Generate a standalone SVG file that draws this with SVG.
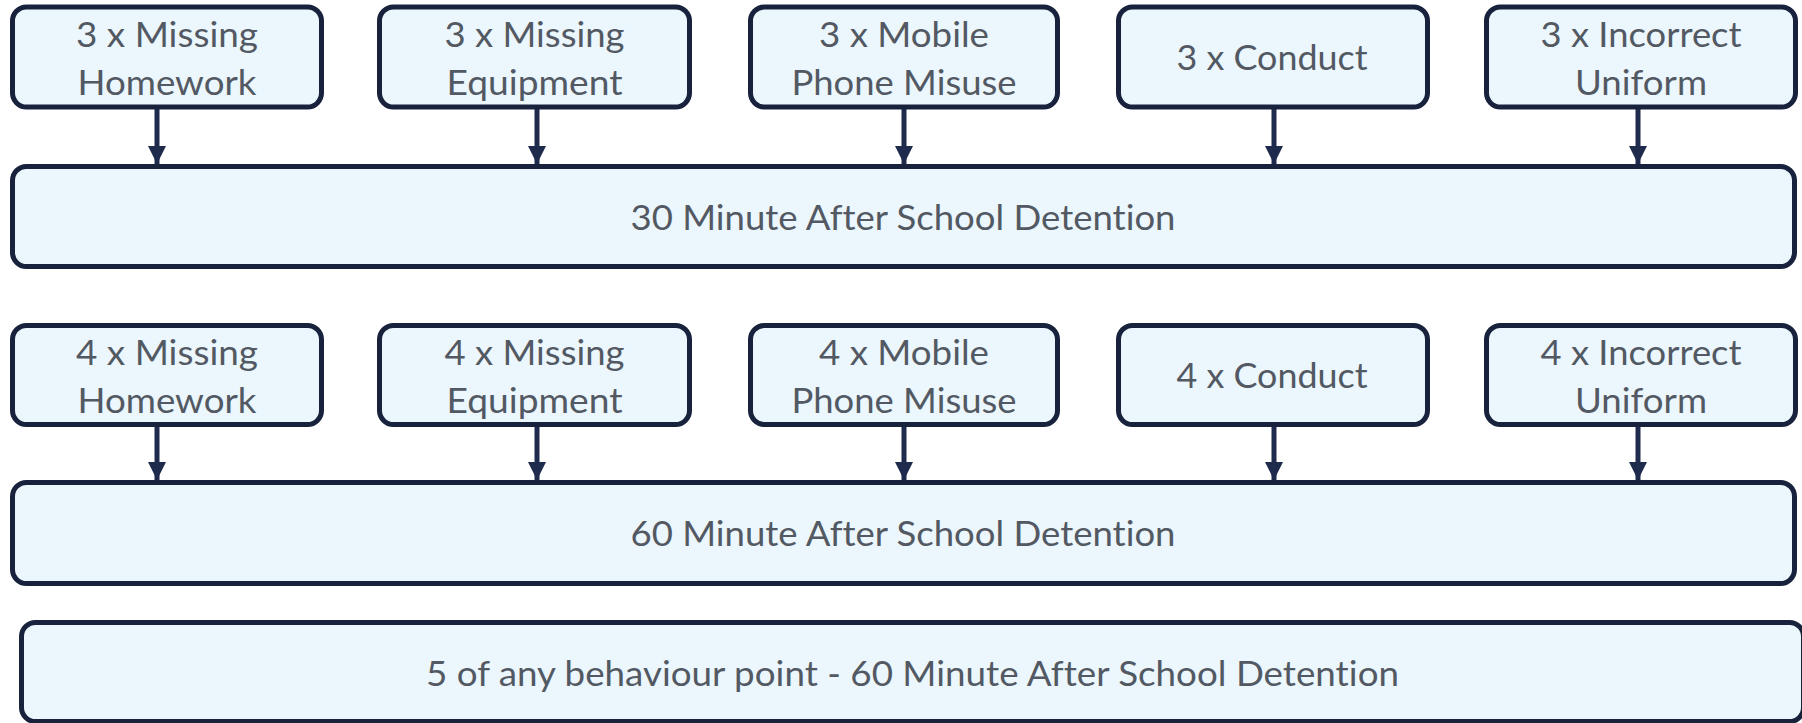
<svg xmlns="http://www.w3.org/2000/svg" width="1802" height="723" viewBox="0 0 1802 723">
<style>
.box{fill:#ebf6fd;stroke:#18223c;stroke-width:5}
.t{font-family:Lato,"Open Sans","Liberation Sans",sans-serif;font-size:34px;fill:#535963;text-anchor:middle;font-variant-ligatures:none;font-feature-settings:"liga" 0}
.c{stroke:#1f2b4d;stroke-width:5;fill:none}
</style>
<defs>
<marker id="ah" viewBox="0 0 10 10" refX="10" refY="5" markerWidth="3.6" markerHeight="3.6" markerUnits="strokeWidth" orient="auto">
<path d="M0,0 L10,5 L0,10 z" fill="#1f2b4d"/>
</marker>
</defs>
<rect width="1802" height="723" fill="#ffffff"/>
<g id="connectors">
<line class="c" x1="157" y1="109" x2="157" y2="164" marker-end="url(#ah)"/>
<line class="c" x1="537" y1="109" x2="537" y2="164" marker-end="url(#ah)"/>
<line class="c" x1="904" y1="109" x2="904" y2="164" marker-end="url(#ah)"/>
<line class="c" x1="1274" y1="109" x2="1274" y2="164" marker-end="url(#ah)"/>
<line class="c" x1="1638" y1="109" x2="1638" y2="164" marker-end="url(#ah)"/>
<line class="c" x1="157" y1="427" x2="157" y2="480" marker-end="url(#ah)"/>
<line class="c" x1="537" y1="427" x2="537" y2="480" marker-end="url(#ah)"/>
<line class="c" x1="904" y1="427" x2="904" y2="480" marker-end="url(#ah)"/>
<line class="c" x1="1274" y1="427" x2="1274" y2="480" marker-end="url(#ah)"/>
<line class="c" x1="1638" y1="427" x2="1638" y2="480" marker-end="url(#ah)"/>
</g>
<g id="n1"><rect class="box" x="12.5" y="7" width="309" height="100" rx="14"/>
<text class="t" x="167" y="47" textLength="182" lengthAdjust="spacingAndGlyphs">3 x Missing</text>
<text class="t" x="167" y="95" textLength="179" lengthAdjust="spacingAndGlyphs">Homework</text></g>
<g id="n2"><rect class="box" x="379.5" y="7" width="310" height="100" rx="14"/>
<text class="t" x="534.5" y="47" textLength="180" lengthAdjust="spacingAndGlyphs">3 x Missing</text>
<text class="t" x="534.5" y="95" textLength="176" lengthAdjust="spacingAndGlyphs">Equipment</text></g>
<g id="n3"><rect class="box" x="750.5" y="7" width="307" height="100" rx="14"/>
<text class="t" x="904" y="47" textLength="170" lengthAdjust="spacingAndGlyphs">3 x Mobile</text>
<text class="t" x="904" y="95" textLength="225" lengthAdjust="spacingAndGlyphs">Phone Misuse</text></g>
<g id="n4"><rect class="box" x="1118.5" y="7" width="309" height="100" rx="14"/>
<text class="t" x="1272" y="70" textLength="191" lengthAdjust="spacingAndGlyphs">3 x Conduct</text></g>
<g id="n5"><rect class="box" x="1486.5" y="7" width="309" height="100" rx="14"/>
<text class="t" x="1641" y="47" textLength="201" lengthAdjust="spacingAndGlyphs">3 x Incorrect</text>
<text class="t" x="1641" y="95" textLength="132" lengthAdjust="spacingAndGlyphs">Uniform</text></g>
<g id="d30"><rect class="box" x="12.5" y="166.5" width="1782" height="100" rx="14"/>
<text class="t" x="903" y="229.5" textLength="545" lengthAdjust="spacingAndGlyphs">30 Minute After School Detention</text></g>
<g id="m1"><rect class="box" x="12.5" y="325.5" width="309" height="99" rx="14"/>
<text class="t" x="167" y="365" textLength="182" lengthAdjust="spacingAndGlyphs">4 x Missing</text>
<text class="t" x="167" y="413" textLength="179" lengthAdjust="spacingAndGlyphs">Homework</text></g>
<g id="m2"><rect class="box" x="379.5" y="325.5" width="310" height="99" rx="14"/>
<text class="t" x="534.5" y="365" textLength="180" lengthAdjust="spacingAndGlyphs">4 x Missing</text>
<text class="t" x="534.5" y="413" textLength="176" lengthAdjust="spacingAndGlyphs">Equipment</text></g>
<g id="m3"><rect class="box" x="750.5" y="325.5" width="307" height="99" rx="14"/>
<text class="t" x="904" y="365" textLength="170" lengthAdjust="spacingAndGlyphs">4 x Mobile</text>
<text class="t" x="904" y="413" textLength="225" lengthAdjust="spacingAndGlyphs">Phone Misuse</text></g>
<g id="m4"><rect class="box" x="1118.5" y="325.5" width="309" height="99" rx="14"/>
<text class="t" x="1272" y="388" textLength="191" lengthAdjust="spacingAndGlyphs">4 x Conduct</text></g>
<g id="m5"><rect class="box" x="1486.5" y="325.5" width="309" height="99" rx="14"/>
<text class="t" x="1641" y="365" textLength="201" lengthAdjust="spacingAndGlyphs">4 x Incorrect</text>
<text class="t" x="1641" y="413" textLength="132" lengthAdjust="spacingAndGlyphs">Uniform</text></g>
<g id="d60"><rect class="box" x="12.5" y="482.5" width="1782" height="101" rx="14"/>
<text class="t" x="903" y="546" textLength="545" lengthAdjust="spacingAndGlyphs">60 Minute After School Detention</text></g>
<g id="any5"><rect class="box" x="21.5" y="622.5" width="1782" height="99" rx="14"/>
<text class="t" x="912.5" y="686" textLength="973" lengthAdjust="spacingAndGlyphs">5 of any behaviour point - 60 Minute After School Detention</text></g>
</svg>
